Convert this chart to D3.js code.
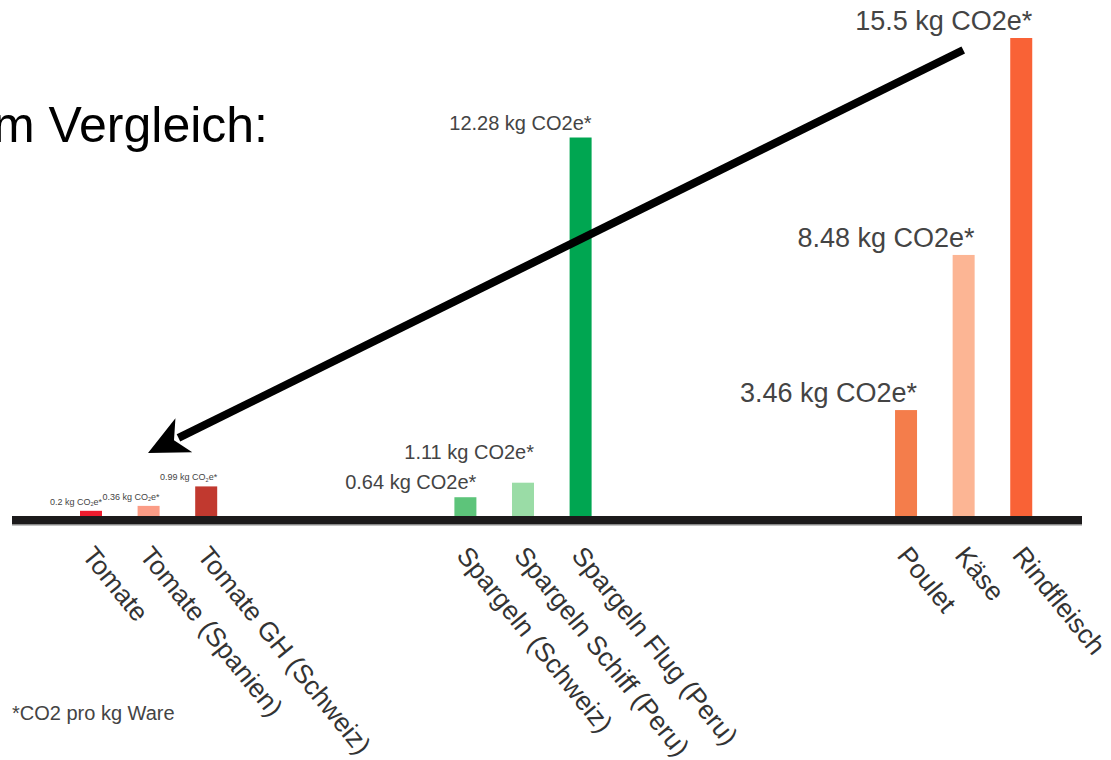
<!DOCTYPE html>
<html lang="de">
<head>
<meta charset="utf-8">
<title>Im Vergleich</title>
<script src="https://cdn.jsdelivr.net/npm/d3@7"></script>
<style>
  body { margin: 0; background: #fff; }
  text { font-family: "Liberation Sans", Arial, Helvetica, sans-serif; }
</style>
</head>
<body>
<div id="stage"></div>
<script>
  // data
  var categories = ["Tomate", "Tomate (Spanien)", "Tomate GH (Schweiz)",
                    "Spargeln (Schweiz)", "Spargeln Schiff (Peru)", "Spargeln Flug (Peru)",
                    "Poulet", "Käse", "Rindfleisch"];
  var groups = [0, 0, 0, 1, 1, 1, 2, 2, 2];
  var values = [0.2, 0.36, 0.99, 0.64, 1.11, 12.28, 3.46, 8.48, 15.5];
  var valueLabels = ["0.2", "0.36", "0.99", "0.64", "1.11", "12.28", "3.46", "8.48", "15.5"];
  var colors = ["#ee1c2e", "#fb9c86", "#c1392f", "#5dc47a", "#9adca6", "#00a651",
                "#f47d4b", "#fcb594", "#f96236"];

  var W = 1111, H = 760;
  var svg = d3.select("#stage").append("svg").attr("width", W).attr("height", H);

  // layout: slot index per bar, groups separated by gaps
  var groupOffset = [0, 3.5, 8.15];
  var groupFont = [9, 20, 27];
  var slot = function (i) { return i + groupOffset[groups[i]]; };
  var x = d3.scaleLinear().domain([0, 1]).range([91, 148.6]);
  var y = d3.scaleLinear().domain([0, 15.5]).range([517, 38]);
  var barW = 22;

  // title (cut off at the left edge, as in the slide)
  svg.append("text").attr("x", 268).attr("y", 142).attr("text-anchor", "end")
    .attr("font-size", 50).attr("fill", "#000").text("Im Vergleich:");

  // bars
  svg.selectAll("rect.bar").data(values).enter().append("rect")
    .attr("class", "bar")
    .attr("x", function (d, i) { return x(slot(i)) - barW / 2; })
    .attr("width", barW)
    .attr("y", function (d) { return y(d); })
    .attr("height", function (d) { return y(0) - y(d); })
    .attr("fill", function (d, i) { return colors[i]; });

  // baseline
  svg.append("rect").attr("x", 12).attr("y", y(0) - 1).attr("width", 1070).attr("height", 9)
    .attr("fill", "#1c1a1b");
  svg.append("rect").attr("x", 12).attr("y", y(0) + 7).attr("width", 1070).attr("height", 1.5)
    .attr("fill", "#888");

  // value labels, right aligned to bar edge
  var lift = function (i) {
    if (categories[i] == "Spargeln Schiff (Peru)") return 24;
    return groups[i] == 0 ? 6 : 8;
  };
  var vl = svg.selectAll("text.val").data(values).enter().append("text")
    .attr("class", "val")
    .attr("x", function (d, i) { return x(slot(i)) + barW / 2; })
    .attr("y", function (d, i) { return y(d) - lift(i); })
    .attr("text-anchor", "end")
    .attr("font-size", function (d, i) { return groupFont[groups[i]]; })
    .attr("fill", "#444");
  vl.each(function (d, i) {
    var t = d3.select(this);
    if (groups[i] == 0) {
      t.append("tspan").text(valueLabels[i] + " kg CO");
      t.append("tspan").attr("font-size", 5.5).attr("dy", 1.5).text("2");
      t.append("tspan").attr("dy", -1.5).text("e*");
    } else {
      t.text(valueLabels[i] + " kg CO2e*");
    }
  });

  // category labels, rotated
  svg.selectAll("text.cat").data(categories).enter().append("text")
    .attr("class", "cat")
    .attr("transform", function (d, i) {
      return "translate(" + (x(slot(i)) - 10) + "," + 556 + ") rotate(51)";
    })
    .attr("font-size", 26.5)
    .attr("fill", "#333")
    .text(function (d) { return d; });

  // footnote
  svg.append("text").attr("x", 12).attr("y", 720).attr("font-size", 20)
    .attr("fill", "#444").text("*CO2 pro kg Ware");

  // arrow from beef to tomatoes
  var x0 = x(slot(8)) - 58, y0 = y(15.5) + 12;
  var x1 = x(slot(0)) + 57, y1 = y(0) - 64;
  var ang = Math.atan2(y1 - y0, x1 - x0);
  var headL = 40, headW = 19;
  var bx = x1 - headL * Math.cos(ang), by = y1 - headL * Math.sin(ang);
  svg.append("line")
    .attr("x1", x0).attr("y1", y0)
    .attr("x2", bx + 6 * Math.cos(ang)).attr("y2", by + 6 * Math.sin(ang))
    .attr("stroke", "#000").attr("stroke-width", 8);
  var nx = -Math.sin(ang), ny = Math.cos(ang);
  svg.append("path")
    .attr("d", "M" + x1 + "," + y1 +
      "L" + (bx + headW * nx) + "," + (by + headW * ny) +
      "L" + (bx + 11 * Math.cos(ang)) + "," + (by + 11 * Math.sin(ang)) +
      "L" + (bx - headW * nx) + "," + (by - headW * ny) + "Z")
    .attr("fill", "#000");
</script>
</body>
</html>
